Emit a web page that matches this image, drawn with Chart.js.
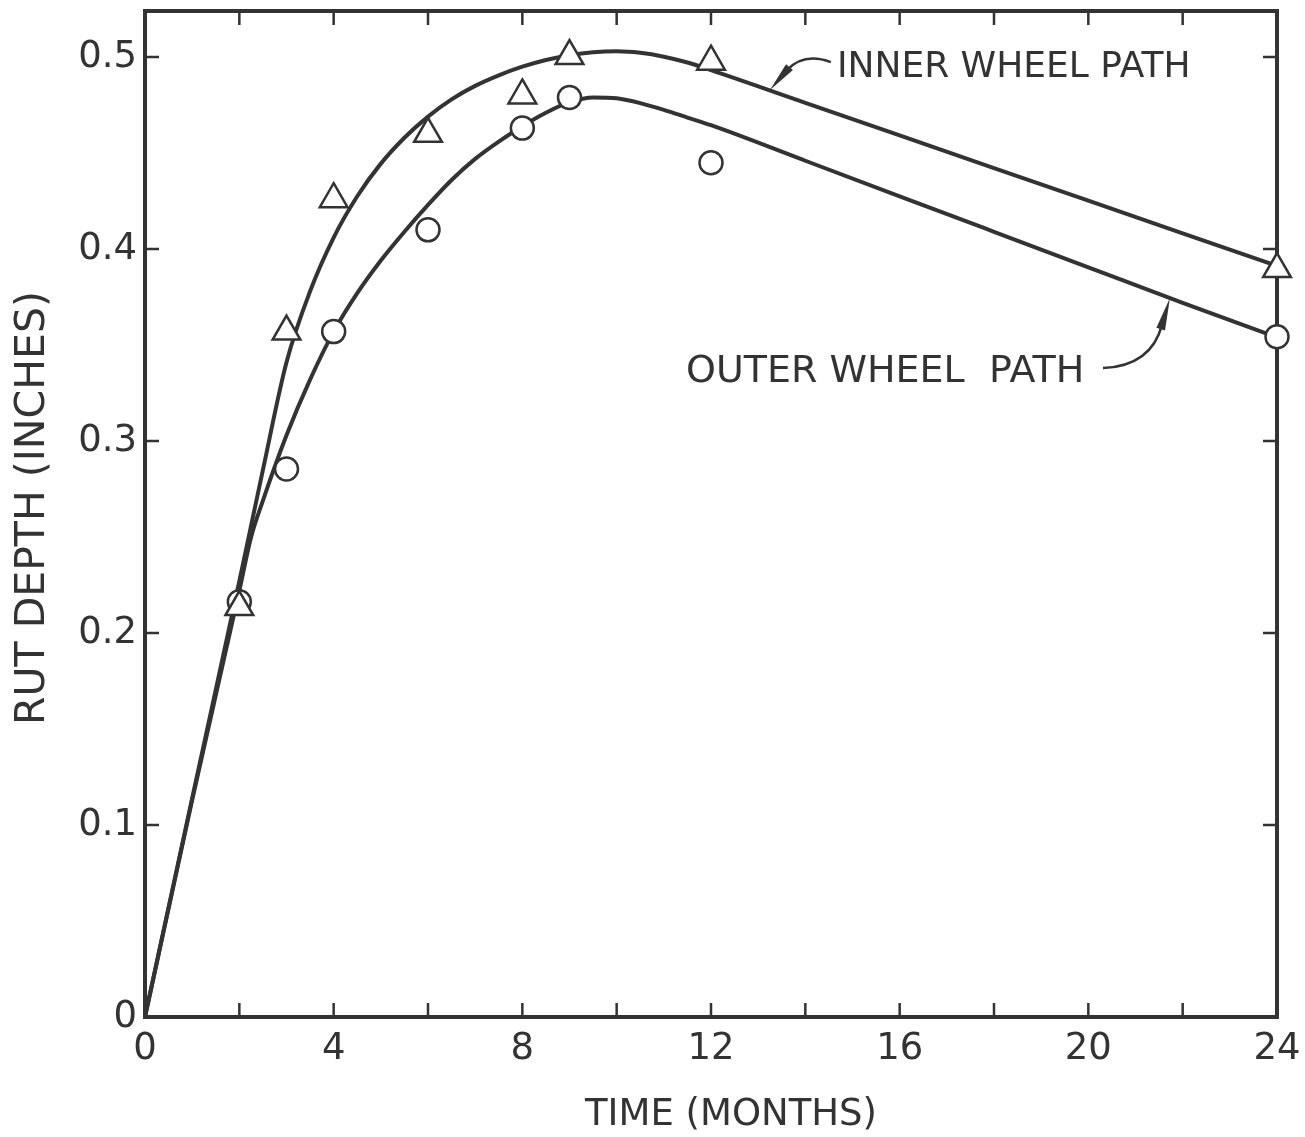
<!DOCTYPE html>
<html><head><meta charset="utf-8">
<script src="https://cdn.jsdelivr.net/npm/chart.js@4.4.0/dist/chart.umd.min.js"></script>
<style>html,body{margin:0;padding:0;background:#fff}</style>
</head><body>
<canvas id="c" width="1305" height="1137"></canvas>
<script>
// ---- data ----
const months = [2, 3, 4, 6, 8, 9, 12, 24];
const innerMeasured = [0.2135, 0.357, 0.426, 0.460, 0.480, 0.5005, 0.4976, 0.3896];
const outerMeasured = [0.2163, 0.2854, 0.357, 0.410, 0.463, 0.479, 0.445, 0.3543];

const innerCurveX = [0, 1, 2, 2.5, 3, 3.5, 4, 4.5, 5, 5.5, 6, 6.5, 7, 7.5, 8, 8.5, 9, 9.5, 10, 10.5, 11, 11.5, 12, 14, 16, 18, 20, 22, 24];
const innerCurveY = [0, 0.114, 0.227, 0.285, 0.341, 0.378, 0.406, 0.4275, 0.4445, 0.458, 0.469, 0.478, 0.485, 0.4905, 0.495, 0.4985, 0.501, 0.5025, 0.503, 0.5022, 0.5002, 0.4972, 0.4932, 0.4762, 0.4592, 0.4422, 0.4252, 0.4082, 0.3912];

const outerCurveX = [0, 1, 2, 2.25, 2.5, 3, 3.5, 4, 4.5, 5, 5.5, 6, 6.5, 7, 7.5, 8, 8.5, 9, 9.5, 10, 10.5, 11, 11.5, 12, 14, 16, 18, 20, 22, 24];
const outerCurveY = [0, 0.113, 0.222, 0.250, 0.269, 0.303, 0.332, 0.357, 0.377, 0.394, 0.409, 0.423, 0.436, 0.447, 0.456, 0.464, 0.471, 0.4765, 0.479, 0.4785, 0.476, 0.4725, 0.4685, 0.4645, 0.446, 0.4275, 0.409, 0.3905, 0.372, 0.354];

const xTickValues = [0, 4, 8, 12, 16, 20, 24];
const xTickLabels = ['0', '4', '8', '12', '16', '20', '24'];
const xMinorTicks = [2, 4, 6, 8, 10, 12, 14, 16, 18, 20, 22];
const yTickValues = [0, 0.1, 0.2, 0.3, 0.4, 0.5];
const yTickLabels = ['0', '0.1', '0.2', '0.3', '0.4', '0.5'];
const yMinorTicks = [0.1, 0.2, 0.3, 0.4, 0.5];

const xTitle = 'TIME (MONTHS)';
const yTitle = 'RUT DEPTH (INCHES)';
const innerLabel = 'INNER WHEEL PATH';
const outerLabel = 'OUTER WHEEL  PATH';

// ---- styling ----
const INK = '#333333';
const FONT = 'DejaVu Sans';

function pts(xs, ys) { return xs.map((x, i) => ({x: x, y: ys[i]})); }

const decor = {
  id: 'decor',
  beforeDraw(chart) {
    const ctx = chart.ctx;
    ctx.save();
    ctx.fillStyle = '#ffffff';
    ctx.fillRect(0, 0, chart.width, chart.height);
    ctx.restore();
  },
  beforeDatasetsDraw(chart) {
    const ctx = chart.ctx, a = chart.chartArea;
    const xs = chart.scales.x, ys = chart.scales.y;
    ctx.save();
    ctx.strokeStyle = INK;
    ctx.lineCap = 'butt';
    ctx.lineWidth = 2.5;
    const L = 14;
    ctx.beginPath();
    xMinorTicks.forEach(v => {
      const px = xs.getPixelForValue(v);
      ctx.moveTo(px, a.bottom); ctx.lineTo(px, a.bottom - L);
      ctx.moveTo(px, a.top); ctx.lineTo(px, a.top + L);
    });
    yMinorTicks.forEach(v => {
      const py = ys.getPixelForValue(v);
      ctx.moveTo(a.left, py); ctx.lineTo(a.left + L, py);
      ctx.moveTo(a.right, py); ctx.lineTo(a.right - L, py);
    });
    ctx.stroke();
    ctx.lineWidth = 4;
    ctx.lineJoin = 'miter';
    ctx.strokeRect(a.left, a.top, a.right - a.left, a.bottom - a.top);
    ctx.restore();
  },
  afterDatasetsDraw(chart) {
    const ctx = chart.ctx, a = chart.chartArea;
    const xs = chart.scales.x, ys = chart.scales.y;
    const P = (x, y) => [xs.getPixelForValue(x), ys.getPixelForValue(y)];
    ctx.save();
    ctx.fillStyle = INK;
    ctx.strokeStyle = INK;
    ctx.textAlign = 'left';
    ctx.textBaseline = 'alphabetic';
    ctx.font = '36px "' + FONT + '"';
    let p = P(14.67, 0.4897);
    ctx.fillText(innerLabel, p[0], p[1]);
    ctx.font = '38px "' + FONT + '"';
    p = P(11.47, 0.3309);
    ctx.fillText(outerLabel, p[0], p[1]);

    function leader(s, c, b, t) {
      const S = P(s[0], s[1]), C = P(c[0], c[1]), B = P(b[0], b[1]), T = P(t[0], t[1]);
      ctx.lineWidth = 2.5;
      ctx.beginPath();
      ctx.moveTo(S[0], S[1]);
      ctx.quadraticCurveTo(C[0], C[1], B[0], B[1]);
      ctx.stroke();
      const dx = T[0] - B[0], dy = T[1] - B[1];
      const len = Math.hypot(dx, dy);
      const nx = -dy / len, ny = dx / len;
      const w = 4.5;
      const bx = B[0] - dx * 0.15, by = B[1] - dy * 0.15;
      ctx.beginPath();
      ctx.moveTo(bx + nx * w, by + ny * w);
      ctx.lineTo(T[0], T[1]);
      ctx.lineTo(bx - nx * w, by - ny * w);
      ctx.closePath();
      ctx.fill();
    }
    leader([14.54, 0.4974], [13.97, 0.5026], [13.61, 0.4932], [13.25, 0.4828]);
    leader([20.31, 0.338], [21.33, 0.3391], [21.56, 0.3604], [21.73, 0.3745]);

    ctx.textAlign = 'center';
    ctx.textBaseline = 'middle';
    ctx.font = '37px "' + FONT + '"';
    ctx.fillText(xTitle, (a.left + a.right) / 2 + 20, 1115);
    ctx.save();
    ctx.translate(33, (a.top + a.bottom) / 2 - 6);
    ctx.rotate(-Math.PI / 2);
    ctx.font = '41px "' + FONT + '"';
    ctx.fillText(yTitle, 0, 0);
    ctx.restore();
    ctx.restore();
  }
};

new Chart(document.getElementById('c'), {
  type: 'scatter',
  data: {
    datasets: [
      {
        label: 'Inner measured', data: pts(months, innerMeasured), order: 0,
        pointStyle: 'triangle', pointRadius: 16, pointHoverRadius: 16,
        pointBackgroundColor: '#ffffff', pointBorderColor: INK, pointBorderWidth: 2.5,
        showLine: false, clip: false
      },
      {
        label: 'Outer measured', data: pts(months, outerMeasured), order: 0,
        pointStyle: 'circle', pointRadius: 11.5, pointHoverRadius: 11.5,
        pointBackgroundColor: '#ffffff', pointBorderColor: INK, pointBorderWidth: 2.5,
        showLine: false, clip: false
      },
      {
        label: 'Inner wheel path', data: pts(innerCurveX, innerCurveY), order: 1,
        showLine: true, pointRadius: 0, borderColor: INK, borderWidth: 4,
        cubicInterpolationMode: 'monotone', fill: false, clip: false
      },
      {
        label: 'Outer wheel path', data: pts(outerCurveX, outerCurveY), order: 1,
        showLine: true, pointRadius: 0, borderColor: INK, borderWidth: 4,
        cubicInterpolationMode: 'monotone', fill: false, clip: false
      }
    ]
  },
  options: {
    responsive: false,
    animation: false,
    devicePixelRatio: 1,
    layout: { autoPadding: false, padding: { left: 0, right: 28, top: 11, bottom: 0 } },
    plugins: { legend: { display: false }, tooltip: { enabled: false }, title: { display: false } },
    events: [],
    scales: {
      x: {
        type: 'linear', min: 0, max: 24,
        grid: { display: false, drawTicks: false }, border: { display: false },
        ticks: {
          stepSize: 4, padding: 10, color: INK, maxRotation: 0, autoSkip: false,
          font: { family: FONT, size: 37 },
          callback: v => { const i = xTickValues.indexOf(v); return i >= 0 ? xTickLabels[i] : ''; }
        },
        afterFit: s => { s.height = 120; s.paddingLeft = 0; s.paddingRight = 0; }
      },
      y: {
        type: 'linear', min: 0, max: 0.524,
        grid: { display: false, drawTicks: false }, border: { display: false },
        ticks: {
          stepSize: 0.1, includeBounds: false, padding: 8, color: INK, autoSkip: false,
          font: { family: FONT, size: 37 },
          callback: v => { const i = Math.round(v * 10); return yTickLabels[i] !== undefined && Math.abs(v - yTickValues[i]) < 1e-6 ? yTickLabels[i] : ''; }
        },
        afterFit: s => { s.width = 145; s.paddingTop = 0; s.paddingBottom = 0; }
      }
    }
  },
  plugins: [decor]
});
</script>
</body></html>
